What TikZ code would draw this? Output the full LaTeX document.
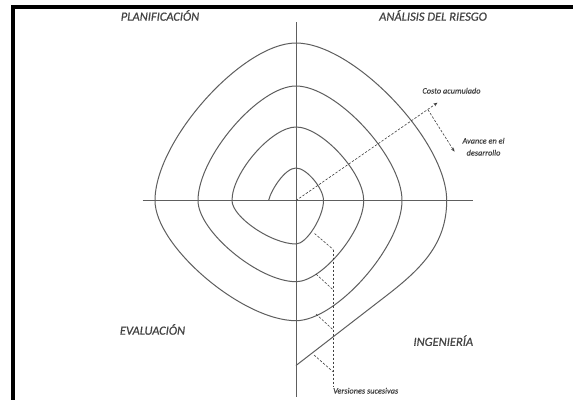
\documentclass[tikz,border=0pt]{standalone}
\usepackage{fontspec}
\setmainfont{Carlito}
\newfontfamily\labelfont[FakeBold=0.6]{Carlito}
\usetikzlibrary{arrows.meta}
\definecolor{inkgray}{HTML}{5E5E5E}
\definecolor{txtgray}{HTML}{444444}
\tikzset{
  axisline/.style={draw=inkgray, line width=1pt},
  spiralline/.style={draw=inkgray, line width=1pt, line join=round},
  dashline/.style={draw=black!75, line width=0.6pt, dash pattern=on 2.4pt off 1.6pt},
  dasharrow/.style={dashline, -{Stealth[length=4pt,width=3.2pt]}},
  biglabel/.style={font=\labelfont\fontsize{12.5}{14}\selectfont\itshape, text=txtgray, inner sep=0pt},
  smalllabel/.style={font=\labelfont\fontsize{8.3}{12}\selectfont\itshape, text=txtgray, inner sep=0pt, align=center}
}
\begin{document}
\begin{tikzpicture}[x=1pt,y=-1pt]
\useasboundingbox (0,0) rectangle (573,400);
\fill[white] (0,0) rectangle (573,400);
% frame (top and left)
\fill[black] (11,5) rectangle (573,9);
\fill[black] (11,5) rectangle (15,400);

% axes
\coordinate (vtop) at (296,22);
\coordinate (vbot) at (296,397);
\coordinate (hl) at (142.5,200.5);
\coordinate (hr) at (473,200.5);
\coordinate (O) at (296,200.5);
\draw[axisline] (vtop) -- (vbot);
\draw[axisline] (hl) -- (hr);

% spiral
\coordinate (s0) at (268.6,200.5);
\coordinate (send) at (296,365.5);
\draw[spiralline] (s0)
  .. controls (271,190) and (285,168) .. (296,168)
  .. controls (306.45,168) and (323.5,188.15) .. (323.5,200.5)
  .. controls (323.5,217.03) and (306.45,244) .. (296,244)
  .. controls (271.68,244) and (232,217.03) .. (232,200.5)
  .. controls (232,172.57) and (271.68,127) .. (296,127)
  .. controls (321.73,127) and (363.7,172.57) .. (363.7,200.5)
  .. controls (363.7,231.36) and (321.73,281.7) .. (296,281.7)
  .. controls (258.76,281.7) and (198,231.36) .. (198,200.5)
  .. controls (198,156.99) and (258.76,86) .. (296,86)
  .. controls (336.28,86) and (402,156.99) .. (402,200.5)
  .. controls (402,246.18) and (336.28,320.7) .. (296,320.7)
  .. controls (242.42,320.7) and (155,246.18) .. (155,200.5)
  .. controls (155,140.65) and (242.42,43) .. (296,43)
  .. controls (353.27,43) and (446.7,140.65) .. (446.7,200.5)
  .. controls (446.7,245) and (420,270) .. (383,298.3)
  -- (send);

% cost / progress arrows
\coordinate (costtip) at (437.5,102.7);
\coordinate (avstart) at (428,109.8);
\coordinate (avtip) at (454.5,151.7);
\draw[dasharrow] (O) -- (costtip);
\draw[dasharrow] (avstart) -- (avtip);

% successive versions
\coordinate (vtopd) at (333.3,249.5);
\coordinate (vbotd) at (333.3,386.7);
\coordinate (d1a) at (314.5,233.5); \coordinate (d1b) at (333.3,249.5);
\coordinate (d2a) at (316,274);     \coordinate (d2b) at (333.3,290);
\coordinate (d3a) at (316,314);     \coordinate (d3b) at (333.3,330);
\coordinate (d4a) at (314,355);     \coordinate (d4b) at (333.3,372);
\draw[dashline] (vtopd) -- (vbotd);
\draw[dashline] (d1a) -- (d1b);
\draw[dashline] (d2a) -- (d2b);
\draw[dashline] (d3a) -- (d3b);
\draw[dashline] (d4a) -- (d4b);

% labels
\node[biglabel] (plan) at (160,15.5) {PLANIFICACIÓN};
\node[biglabel] (riesgo) at (433,15.5) {ANÁLISIS DEL RIESGO};
\node[biglabel] (eval) at (152.5,329.5) {EVALUACIÓN};
\node[biglabel] (ing) at (443.3,340.7) {INGENIERÍA};
\node[smalllabel] (costo) at (451.5,90.7) {Costo acumulado};
\node[smalllabel] (avance) at (483.5,146.7) {Avance en el\\desarrollo};
\node[smalllabel, anchor=west] (versiones) at (333,390.7) {Versiones sucesivas};
\end{tikzpicture}
\end{document}
